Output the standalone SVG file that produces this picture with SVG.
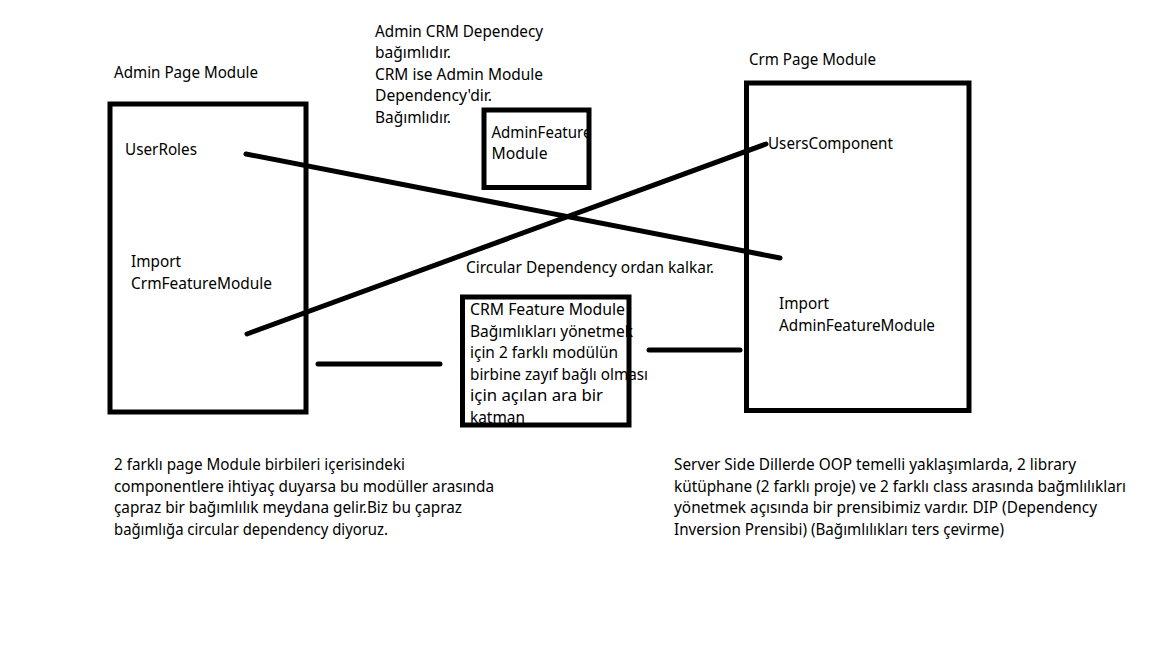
<svg xmlns="http://www.w3.org/2000/svg" width="1152" height="648" viewBox="0 0 1152 648">
<style>
text { font-family: "Noto Sans", "Open Sans", sans-serif; font-size: 16px; fill: #000; }
.box { fill: none; stroke: #000; stroke-width: 5; }
.conn { stroke: #000; stroke-width: 5; stroke-linecap: round; fill: none; }
</style>
<rect width="1152" height="648" fill="#fff"/>

<g id="admin-page-module">
  <text x="114" y="78" textLength="144" lengthAdjust="spacingAndGlyphs">Admin Page Module</text>
  <text x="125" y="155" textLength="72" lengthAdjust="spacingAndGlyphs">UserRoles</text>
  <text x="131" y="267" textLength="50" lengthAdjust="spacingAndGlyphs">Import</text>
  <text x="131" y="288.5" textLength="141" lengthAdjust="spacingAndGlyphs">CrmFeatureModule</text>
  <rect class="box" x="110" y="104" width="196" height="308"/>
</g>

<g id="crm-page-module">
  <text x="749" y="65" textLength="127" lengthAdjust="spacingAndGlyphs">Crm Page Module</text>
  <text x="768" y="149" textLength="125" lengthAdjust="spacingAndGlyphs">UsersComponent</text>
  <text x="779" y="309" textLength="50" lengthAdjust="spacingAndGlyphs">Import</text>
  <text x="779" y="330.5" textLength="156" lengthAdjust="spacingAndGlyphs">AdminFeatureModule</text>
  <rect class="box" x="746.5" y="83" width="222.5" height="327.5"/>
</g>

<g id="admin-feature-module">
  <rect class="box" x="484" y="110" width="105" height="77.5"/>
  <text x="491.5" y="137.5" textLength="100" lengthAdjust="spacingAndGlyphs">AdminFeature</text>
  <text x="491.5" y="159" textLength="56" lengthAdjust="spacingAndGlyphs">Module</text>
</g>

<g id="crm-feature-module">
  <text x="470" y="315" textLength="155" lengthAdjust="spacingAndGlyphs">CRM Feature Module</text>
  <text x="470" y="336.5" textLength="163" lengthAdjust="spacingAndGlyphs">Bağımlıkları yönetmek</text>
  <text x="470" y="358" textLength="148" lengthAdjust="spacingAndGlyphs">için 2 farklı modülün</text>
  <text x="470" y="379.5" textLength="178" lengthAdjust="spacingAndGlyphs">birbine zayıf bağlı olması</text>
  <text x="470" y="401" textLength="133" lengthAdjust="spacingAndGlyphs">için açılan ara bir</text>
  <text x="470" y="422.5" textLength="55" lengthAdjust="spacingAndGlyphs">katman</text>
  <rect x="462.5" y="425" width="166.5" height="8" fill="#fff"/>
  <rect class="box" x="462.5" y="297" width="166.5" height="128"/>
</g>

<g id="note-top">
  <text x="375" y="36.5" textLength="168" lengthAdjust="spacingAndGlyphs">Admin CRM Dependecy</text>
  <text x="375" y="58" textLength="76" lengthAdjust="spacingAndGlyphs">bağımlıdır.</text>
  <text x="375" y="79.5" textLength="168" lengthAdjust="spacingAndGlyphs">CRM ise Admin Module</text>
  <text x="375" y="101" textLength="117" lengthAdjust="spacingAndGlyphs">Dependency'dir.</text>
  <text x="375" y="122.5" textLength="76" lengthAdjust="spacingAndGlyphs">Bağımlıdır.</text>
</g>

<g id="note-circular">
  <text x="466" y="273" textLength="248" lengthAdjust="spacingAndGlyphs">Circular Dependency ordan kalkar.</text>
</g>

<g id="note-bottom-left">
  <text x="114" y="470" textLength="291" lengthAdjust="spacingAndGlyphs">2 farklı page Module birbileri içerisindeki</text>
  <text x="114" y="491.5" textLength="380" lengthAdjust="spacingAndGlyphs">componentlere ihtiyaç duyarsa bu modüller arasında</text>
  <text x="114" y="513" textLength="348" lengthAdjust="spacingAndGlyphs">çapraz bir bağımlılık meydana gelir.Biz bu çapraz</text>
  <text x="114" y="534.5" textLength="274" lengthAdjust="spacingAndGlyphs">bağımlığa circular dependency diyoruz.</text>
</g>

<g id="note-bottom-right">
  <text x="674" y="470" textLength="402" lengthAdjust="spacingAndGlyphs">Server Side Dillerde OOP temelli yaklaşımlarda, 2 library</text>
  <text x="674" y="491.5" textLength="452" lengthAdjust="spacingAndGlyphs">kütüphane (2 farklı proje) ve 2 farklı class arasında bağmlılıkları</text>
  <text x="674" y="513" textLength="423" lengthAdjust="spacingAndGlyphs">yönetmek açısında bir prensibimiz vardır. DIP (Dependency</text>
  <text x="674" y="534.5" textLength="330" lengthAdjust="spacingAndGlyphs">Inversion Prensibi) (Bağımlılıkları ters çevirme)</text>
</g>

<g id="connectors">
  <line class="conn" x1="246" y1="154" x2="780" y2="258"/>
  <line class="conn" x1="247" y1="334" x2="766" y2="144"/>
  <line class="conn" x1="318" y1="364" x2="440" y2="364"/>
  <line class="conn" x1="649" y1="350" x2="740" y2="350"/>
</g>
</svg>
